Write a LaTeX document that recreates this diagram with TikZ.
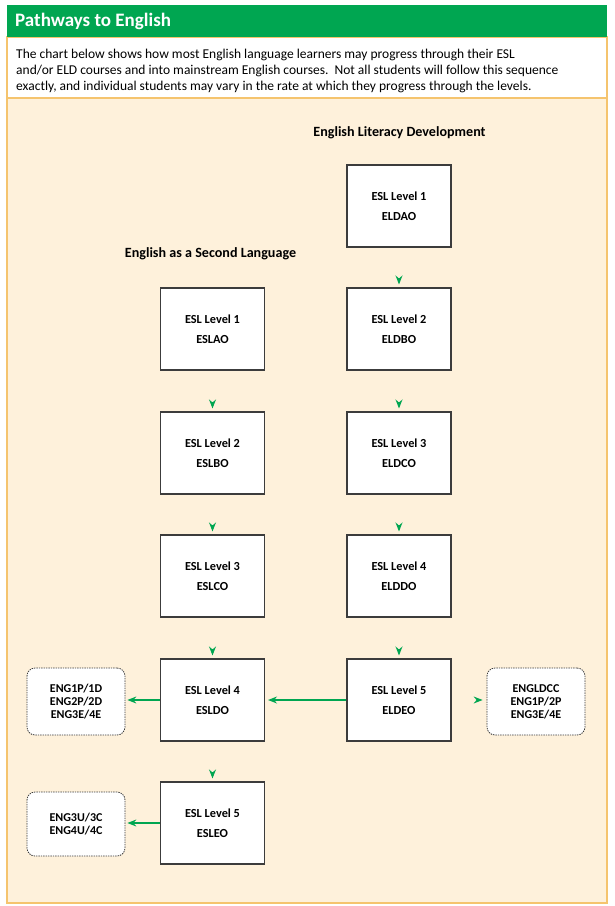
\documentclass[tikz,border=0pt]{standalone}
\usepackage{fontspec}
\setmainfont{Carlito}
\usepackage{tikz}
\usetikzlibrary{arrows.meta}
\usetikzlibrary{positioning}

\definecolor{eldgreen}{RGB}{0,166,81}
\definecolor{cream}{RGB}{254,241,219}
\definecolor{gold}{RGB}{245,196,110}
\definecolor{boxline}{RGB}{60,60,60}

\tikzset{course/.style = {draw=boxline, fill=white, line width=1.1pt,
                          minimum width=104pt, minimum height=82pt,
                          align=center, font=\fontsize{12.3}{20}\selectfont\bfseries},
         mainstream/.style = {draw=boxline, fill=white, line width=0.8pt,
                              dash pattern=on 1.4pt off 1pt, rounded corners=8pt,
                              minimum width=98pt, align=center,
                              font=\fontsize{12}{13}\selectfont\bfseries},
         heading/.style = {font=\fontsize{14.1}{16}\selectfont\bfseries},
         go/.style = {draw=eldgreen, line width=1.1pt,
                      -{Stealth[length=9pt,width=7pt,inset=3pt]}}}

\begin{document}
\begin{tikzpicture}[x=1pt, y=-1pt]
    \useasboundingbox (0, 0) rectangle (615, 906);

    % frame
    \fill [cream] (7, 98) rectangle (607, 903);
    \draw [gold, line width=1.2pt] (7, 37) rectangle (607, 903);
    \draw [gold, line width=1.2pt] (7, 98) -- (607, 98);
    \fill [eldgreen] (7, 5) rectangle (607, 37);

    \node (title) at (15, 21) [anchor=west, inner sep=0, text=white,
        font=\fontsize{19}{22}\selectfont\bfseries] {Pathways to English};
    \node (intro) at (16, 48.5) [anchor=north west, inner sep=0, align=left,
        font=\fontsize{13.5}{16}\selectfont] {The chart below shows how most English language learners may progress through their ESL\\
        and/or ELD courses and into mainstream English courses.\ \ Not all students will follow this sequence\\
        exactly, and individual students may vary in the rate at which they progress through the levels.};

    \node (eldhead) at (399.5, 133) [heading] {English Literacy Development};
    \node (eslhead) at (210.5, 254) [heading] {English as a Second Language};

    % English Literacy Development
    \node (eldA) at (399, 206) [course] {ESL Level 1\\ELDAO};
    \node (eldB) at (399, 329) [course] {ESL Level 2\\ELDBO};
    \node (eldC) at (399, 453) [course] {ESL Level 3\\ELDCO};
    \node (eldD) at (399, 576) [course] {ESL Level 4\\ELDDO};
    \node (eldE) at (399, 700) [course] {ESL Level 5\\ELDEO};

    % English as a Second Language
    \node (eslA) at (212.5, 329) [course] {ESL Level 1\\ESLAO};
    \node (eslB) at (212.5, 453) [course] {ESL Level 2\\ESLBO};
    \node (eslC) at (212.5, 576) [course] {ESL Level 3\\ESLCO};
    \node (eslD) at (212.5, 700) [course] {ESL Level 4\\ESLDO};
    \node (eslE) at (212.5, 823) [course] {ESL Level 5\\ESLEO};

    % mainstream English
    \node (engD) at (76, 701.5) [mainstream, minimum height=67pt] {ENG1P/1D\\ENG2P/2D\\ENG3E/4E};
    \node (engC) at (536, 701.5) [mainstream, minimum height=67pt] {ENGLDCC\\ENG1P/2P\\ENG3E/4E};
    \node (engU) at (76, 824) [mainstream, minimum height=64pt] {ENG3U/3C\\ENG4U/4C};

    \foreach \a/\b in {eldA/eldB, eldB/eldC, eldC/eldD, eldD/eldE,
                       eslA/eslB, eslB/eslC, eslC/eslD, eslD/eslE}
        \draw [go, shorten <=31pt, shorten >=3pt] (\a) -- (\b);

    \draw [go, shorten >=3pt] (eldE) -- (eslD);
    \draw [go, shorten >=2pt] (eslD.west) -- (eslD.west -| engD.east);
    \draw [go, shorten >=2pt] (eslE.west) -- (eslE.west -| engU.east);
    \draw [go, shorten <=26pt, shorten >=4pt] (eldE.east) -- (eldE.east -| engC.west); % tip only
\end{tikzpicture}
\end{document}
